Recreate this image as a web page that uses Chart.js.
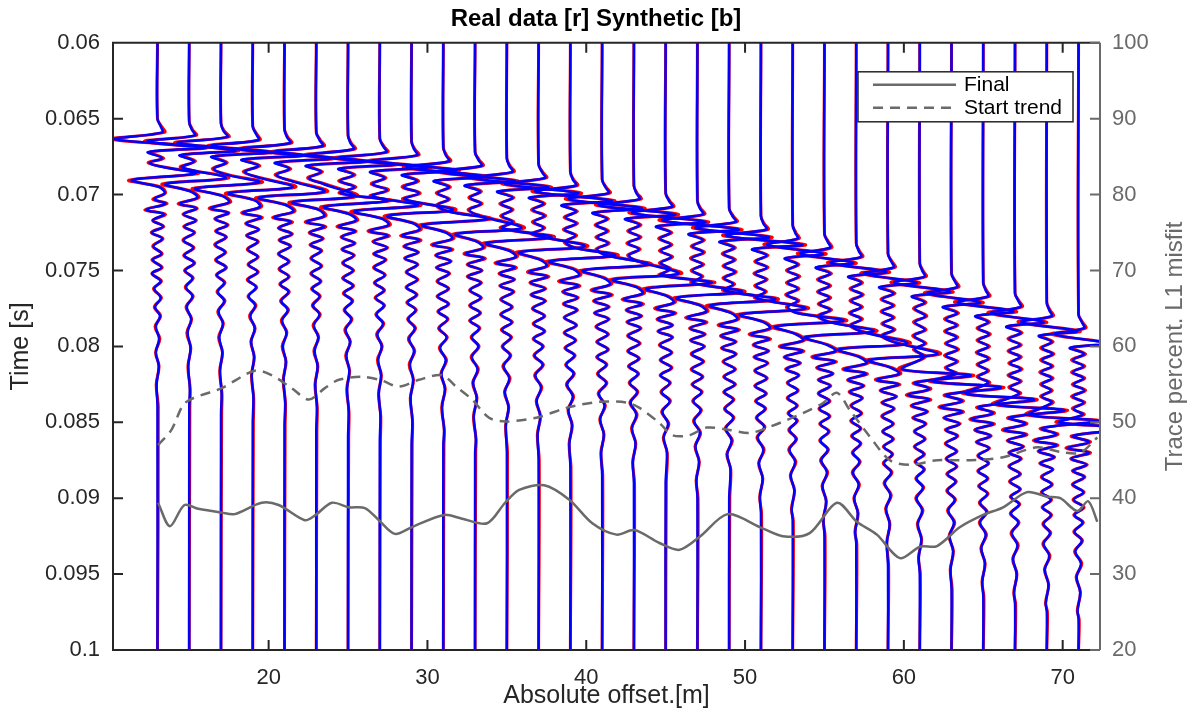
<!DOCTYPE html>
<html lang="en">
<head>
<meta charset="UTF-8">
<title>Real data [r] Synthetic [b]</title>
<script src="https://cdn.jsdelivr.net/npm/chart.js@4.4.1/dist/chart.umd.min.js"></script>
<style>
  html, body { margin: 0; padding: 0; background: #fff; }
  #chart { display: block; }
</style>
</head>
<body>
<canvas id="chart" width="1192" height="710"></canvas>
<script>
// trace positions (m)
const offsets = [13,15,17,19,21,23,25,27,29,31,33,35,37,39,41,43,45,47,49,51,53,55,57,59,61,63,65,67,69,71];

// sample times per trace (ms)
const traceTimes = [
  [60,65,65.5,65.9,66.35,66.9,67.2,67.6,67.9,68.2,68.6,69.05,69.5,69.9,70.3,70.6,71,71.3,71.7,72.1,72.5,72.9,73.4,73.9,74.3,74.8,75.2,75.7,76.2,76.8,77.4,78,78.7,79.5,80.4,81.3,82.5,84,100],
  [60,65.2,65.7,66.1,66.5,67.1,67.4,67.8,68.2,68.9,69.3,69.8,70.2,70.6,70.9,71.3,71.7,72.1,72.5,73,73.5,74,74.5,75,75.5,76.1,76.7,77.4,78.2,79.1,80.1,81.3,82.8,84,100],
  [60,65.3,65.8,66.2,66.6,67.2,67.5,67.9,68.3,68.7,69.2,69.6,70.1,70.5,70.9,71.2,71.6,72,72.4,72.8,73.3,73.8,74.3,74.8,75.3,75.8,76.4,77,77.7,78.5,79.4,80.4,81.6,83.1,84.5,100],
  [60,65.5,66,66.4,66.8,67.4,67.7,68.1,68.5,68.9,69.5,69.9,70.4,70.8,71.2,71.5,71.9,72.3,72.7,73.1,73.6,74.1,74.6,75.1,75.6,76.1,76.7,77.3,78,78.8,79.7,80.7,81.9,83.4,85,100],
  [60,65.7,66.2,66.6,67,67.6,67.9,68.3,68.7,69.1,69.8,70.2,70.7,71.1,71.5,71.8,72.2,72.6,73,73.4,73.9,74.4,74.9,75.4,75.9,76.4,77,77.6,78.3,79.1,80,81,82.2,83.7,85.2,100],
  [60,65.9,66.4,66.8,67.2,67.8,68.1,68.5,68.9,69.3,70.1,70.5,71,71.4,71.8,72.1,72.5,72.9,73.3,73.7,74.2,74.7,75.2,75.7,76.2,76.7,77.3,77.9,78.6,79.4,80.3,81.3,82.5,84,85.5,100],
  [60,66.1,66.6,67,67.4,68,68.3,68.7,69.1,69.5,69.9,70.4,70.8,71.3,71.7,72.1,72.4,72.8,73.2,73.6,74,74.5,75,75.5,76,76.5,77,77.6,78.2,78.9,79.7,80.6,81.6,82.8,84.3,86,100],
  [60,66.3,66.8,67.2,67.6,68.2,68.5,68.9,69.3,69.7,70.1,70.7,71.1,71.6,72,72.4,72.7,73.1,73.5,73.9,74.3,74.8,75.3,75.8,76.3,76.8,77.3,77.9,78.5,79.2,80,80.9,81.9,83.1,84.6,86.2,100],
  [60,66.5,67,67.4,67.8,68.4,68.7,69.1,69.5,69.9,70.3,71,71.4,71.9,72.3,72.7,73,73.4,73.8,74.2,74.6,75.1,75.6,76.1,76.6,77.1,77.6,78.2,78.8,79.5,80.3,81.2,82.2,83.4,84.9,86.5,100],
  [60,66.9,67.4,67.8,68.2,68.8,69.1,69.5,69.9,70.3,70.7,71.1,71.6,72,72.5,72.9,73.3,73.6,74,74.4,74.8,75.2,75.7,76.2,76.7,77.2,77.7,78.2,78.8,79.4,80.1,80.9,81.8,82.8,84,85.5,86.5,100],
  [60,67.2,67.7,68.1,68.5,69.1,69.4,69.8,70.2,70.6,71,71.4,72.2,72.6,73.1,73.5,73.9,74.2,74.6,75,75.4,75.8,76.3,76.8,77.3,77.8,78.3,78.8,79.4,80,80.7,81.5,82.4,83.4,84.6,86.1,87,100],
  [60,67.6,68.1,68.5,68.9,69.5,69.8,70.2,70.6,71,71.4,71.8,72.2,72.8,73.2,73.7,74.1,74.5,74.8,75.2,75.6,76,76.4,76.9,77.4,77.9,78.4,78.9,79.4,80,80.6,81.3,82.1,83,84,85.2,87,100],
  [60,68,68.5,68.9,69.3,69.9,70.2,70.6,71,71.4,71.8,72.2,72.6,73.4,73.8,74.3,74.7,75.1,75.4,75.8,76.2,76.6,77,77.5,78,78.5,79,79.5,80,80.6,81.2,81.9,82.7,83.6,84.6,85.8,87.5,100],
  [60,68.5,69,69.4,69.8,70.4,70.7,71.1,71.5,71.9,72.3,72.7,73.1,73.5,74,74.4,74.9,75.3,75.7,76,76.4,76.8,77.2,77.6,78.1,78.6,79.1,79.6,80.1,80.6,81.2,81.8,82.5,83.3,84.2,85.2,86.4,88,100],
  [60,69,69.5,69.9,70.3,70.9,71.2,71.6,72,72.4,72.8,73.2,73.6,74,74.6,75,75.5,75.9,76.3,76.6,77,77.4,77.8,78.2,78.7,79.2,79.7,80.2,80.7,81.2,81.8,82.4,83.1,83.9,84.8,85.8,87,88.5,100],
  [60,69.4,69.9,70.3,70.7,71.3,71.6,72,72.4,72.8,73.2,73.6,74,74.4,75.2,75.6,76.1,76.5,76.9,77.2,77.6,78,78.4,78.8,79.3,79.8,80.3,80.8,81.3,81.8,82.4,83,83.7,84.5,85.4,86.4,87.6,89,100],
  [60,69.9,70.4,70.8,71.2,71.8,72.1,72.5,72.9,73.3,73.7,74.1,74.5,74.9,75.3,75.8,76.2,76.7,77.1,77.5,77.8,78.2,78.6,79,79.4,79.9,80.4,80.9,81.4,81.9,82.4,83,83.6,84.3,85.1,86,87,89,100],
  [60,70.4,70.9,71.3,71.7,72.3,72.6,73,73.4,73.8,74.2,74.6,75,75.4,75.8,76.4,76.8,77.3,77.7,78.1,78.4,78.8,79.2,79.6,80,80.5,81,81.5,82,82.5,83,83.6,84.2,84.9,85.7,86.6,87.6,88.8,90,100],
  [60,70.9,71.4,71.8,72.2,72.8,73.1,73.5,73.9,74.3,74.7,75.1,75.5,75.9,76.3,76.9,77.3,77.8,78.2,78.6,78.9,79.3,79.7,80.1,80.5,81,81.5,82,82.5,83,83.5,84.1,84.7,85.4,86.2,87.1,88.1,90,100],
  [60,71.4,71.9,72.3,72.7,73.3,73.6,74,74.4,74.8,75.2,75.6,76,76.4,76.8,77.5,77.9,78.4,78.8,79.2,79.5,79.9,80.3,80.7,81.1,81.6,82.1,82.6,83.1,83.6,84.1,84.7,85.3,86,86.8,87.7,88.7,89.9,91,100],
  [60,72,72.5,72.9,73.3,73.9,74.2,74.6,75,75.4,75.8,76.2,76.6,77,77.4,77.8,78.3,78.7,79.2,79.6,80,80.3,80.7,81.1,81.5,81.9,82.4,82.9,83.4,83.9,84.4,84.9,85.5,86.1,86.8,87.6,88.5,89.5,90.7,91.5,100],
  [60,72.6,73.1,73.5,73.9,74.5,74.8,75.2,75.6,76,76.4,76.8,77.2,77.6,78,78.4,79,79.4,79.9,80.3,80.7,81,81.4,81.8,82.2,82.6,83.1,83.6,84.1,84.6,85.1,85.6,86.2,86.8,87.5,88.3,89.2,90.2,91.4,92.5,100],
  [60,73.2,73.7,74.1,74.5,75.1,75.4,75.8,76.2,76.6,77,77.4,77.8,78.2,78.6,79,79.8,80.2,80.7,81.1,81.5,81.8,82.2,82.6,83,83.4,83.9,84.4,84.9,85.4,85.9,86.4,87,87.6,88.3,89.1,90,91,92.2,93,100],
  [60,73.9,74.4,74.8,75.2,75.8,76.1,76.5,76.9,77.3,77.7,78.1,78.5,78.9,79.3,79.7,80.5,80.9,81.4,81.8,82.2,82.5,82.9,83.3,83.7,84.1,84.6,85.1,85.6,86.1,86.6,87.1,87.7,88.3,89,89.8,90.7,91.7,92.9,94.5,100],
  [60,74.5,75,75.4,75.8,76.4,76.7,77.1,77.5,78,78.4,78.9,79.3,79.8,80.2,80.7,81.5,81.9,82.4,82.8,83.2,83.5,83.9,84.3,84.7,85.1,85.6,86.1,86.6,87.1,87.6,88.1,88.7,89.3,90,90.8,91.7,92.7,93.9,95,100],
  [60,75.2,75.7,76.1,76.5,77.1,77.4,77.8,78.2,78.6,79,79.4,79.8,80.2,80.6,81,81.4,81.8,82.3,82.7,83.2,83.6,84,84.3,84.7,85.1,85.5,85.9,86.4,86.9,87.4,87.9,88.4,88.9,89.5,90.1,90.8,91.6,92.5,93.5,94.7,96,100],
  [60,75.8,76.3,76.7,77.1,77.7,78,78.4,78.8,79.2,79.6,80,80.4,80.8,81.2,81.6,82,82.4,83.1,83.5,84,84.4,84.8,85.1,85.5,85.9,86.3,86.7,87.2,87.7,88.2,88.7,89.2,89.7,90.3,90.9,91.6,92.4,93.3,94.3,95.5,96.5,100],
  [60,76.5,77,77.4,77.8,78.4,78.7,79.1,79.5,79.9,80.3,80.7,81.1,81.5,81.9,82.3,82.7,83.1,83.8,84.2,84.7,85.1,85.5,85.8,86.2,86.6,87,87.4,87.9,88.4,88.9,89.4,89.9,90.4,91,91.6,92.3,93.1,94,95,96.2,97,100],
  [60,77.1,77.6,78,78.4,79,79.3,79.7,80.1,80.5,80.9,81.3,81.7,82.1,82.5,82.9,83.3,83.7,84.5,84.9,85.4,85.8,86.2,86.5,86.9,87.3,87.7,88.1,88.6,89.1,89.6,90.1,90.6,91.1,91.7,92.3,93,93.8,94.7,95.7,96.9,97.5,100],
  [60,77.9,78.4,78.8,79.2,79.8,80.1,80.5,80.9,81.3,81.7,82.1,82.5,82.9,83.3,83.7,84.1,84.5,85,85.4,85.9,86.3,86.7,87,87.4,87.8,88.2,88.6,89.1,89.6,90.1,90.6,91.1,91.6,92.2,92.8,93.5,94.3,95.2,96.2,97.4,98,100]
];

// synthetic trace deflection (m) at those times
const synthDx = [
  [0,0,.2,.3,-2.7,3,-.6,.3,-.5,.4,2.4,-1.6,.1,.45,-.2,.5,-.7,.4,-.3,.35,-.35,.3,-.25,.25,-.3,.25,-.35,.2,-.2,.2,-.15,.15,-.1,.1,-.1,.08,-.05,0,0],
  [0,0,.15,.35,-2.6,2.9,-.6,.3,-.45,2.3,-1.5,.1,.5,-.6,.45,-.35,.4,-.3,.3,-.35,.25,-.3,.3,-.25,.2,-.2,.2,-.15,.12,-.1,.08,-.06,.04,0,0],
  [0,0,.15,.4,-2.7,3,-.6,.3,-.45,.4,2.4,-1.6,.1,.5,-.65,.45,-.35,.4,-.3,.3,-.35,.25,-.3,.3,-.25,.2,-.2,.2,-.15,.12,-.1,.08,-.06,.04,0,0],
  [0,0,.2,.35,-2.6,3.1,-.7,.35,-.5,.45,2.5,-1.5,.15,.45,-.6,.5,-.4,.35,-.35,.3,-.3,.3,-.25,.3,-.3,.2,-.25,.15,-.15,.12,-.1,.08,-.06,.04,0,0],
  [0,0,.15,.35,-2.7,2.9,-.6,.3,-.5,.4,2.5,-1.6,.1,.55,-.65,.4,-.35,.45,-.3,.35,-.35,.25,-.3,.25,-.25,.25,-.2,.2,-.15,.12,-.1,.08,-.06,.04,0,0],
  [0,0,.2,.4,-2.6,3,-.65,.3,-.45,.45,2.4,-1.5,.15,.5,-.6,.5,-.4,.4,-.35,.3,-.3,.3,-.3,.25,-.25,.2,-.2,.2,-.15,.12,-.1,.08,-.06,.04,0,0],
  [0,0,.15,.35,-2.5,2.9,-.6,.35,-.5,.4,-.45,2.5,-1.5,.1,.5,-.6,.45,-.4,.4,-.35,.35,-.3,.3,-.3,.3,-.25,.25,-.2,.2,-.15,.12,-.1,.08,-.06,.04,0,0],
  [0,0,.2,.4,-2.6,3,-.6,.3,-.45,.45,-.5,2.4,-1.6,.15,.55,-.65,.5,-.4,.45,-.35,.35,-.35,.3,-.3,.25,-.25,.25,-.2,.2,-.15,.12,-.1,.08,-.06,.04,0,0],
  [0,0,.15,.35,-2.5,2.8,-.6,.35,-.5,.45,-.45,2.6,-1.5,.1,.5,-.6,.5,-.45,.4,-.4,.35,-.3,.35,-.3,.3,-.25,.25,-.2,.2,-.15,.15,-.1,.1,-.06,.05,0,0],
  [0,0,.15,.35,-2.3,2.6,-.6,.35,-.35,.3,-.35,.25,2.8,-1.3,.15,.55,-.65,.5,-.45,.45,-.4,.35,-.35,.3,-.35,.3,-.3,.25,-.25,.2,-.2,.15,-.12,.1,-.08,.05,0,0],
  [0,0,.2,.4,-2.2,2.5,-.65,.3,-.3,.35,-.35,.3,2.9,-1.2,.1,.5,-.6,.55,-.45,.4,-.45,.35,-.3,.35,-.3,.3,-.3,.25,-.2,.2,-.2,.15,-.12,.1,-.08,.05,0,0],
  [0,0,.15,.35,-2.2,2.6,-.6,.35,-.35,.3,-.3,.35,-.3,2.8,-1.3,.15,.55,-.65,.5,-.45,.45,-.4,.4,-.35,.3,-.35,.3,-.3,.25,-.25,.2,-.2,.15,-.12,.1,-.06,0,0],
  [0,0,.2,.4,-2.1,2.5,-.6,.3,-.35,.35,-.3,.3,-.35,2.9,-1.2,.1,.5,-.6,.55,-.5,.4,-.45,.4,-.35,.35,-.3,.35,-.3,.25,-.25,.25,-.2,.15,-.12,.1,-.06,0,0],
  [0,0,.15,.35,-2.2,2.6,-.55,.35,-.3,.35,-.35,.3,-.3,.25,2.8,-1.3,.15,.55,-.65,.5,-.45,.45,-.4,.4,-.35,.35,-.35,.3,-.3,.25,-.25,.2,-.2,.15,-.12,.1,-.06,0,0],
  [0,0,.2,.4,-2.1,2.5,-.6,.3,-.35,.3,-.3,.35,-.3,.25,2.9,-1.2,.1,.5,-.6,.55,-.5,.4,-.45,.4,-.35,.35,-.3,.35,-.3,.25,-.25,.25,-.2,.15,-.12,.1,-.06,0,0],
  [0,0,.15,.35,-2.2,2.6,-.55,.35,-.3,.35,-.35,.3,-.3,.25,2.8,-1.3,.15,.55,-.65,.5,-.45,.45,-.4,.4,-.35,.35,-.35,.3,-.3,.25,-.25,.2,-.2,.15,-.12,.1,-.06,0,0],
  [0,0,.2,.4,-2.1,2.5,-.6,.3,-.35,.3,-.3,.35,-.3,.25,-.3,2.9,-1.2,.1,.5,-.6,.55,-.5,.4,-.45,.4,-.35,.35,-.3,.35,-.3,.25,-.25,.25,-.2,.15,-.12,.08,0,0],
  [0,0,.15,.35,-2.2,2.6,-.55,.35,-.3,.35,-.35,.3,-.3,.25,-.3,2.8,-1.3,.15,.55,-.65,.5,-.45,.45,-.4,.4,-.35,.35,-.35,.3,-.3,.25,-.25,.2,-.2,.15,-.12,.1,-.06,0,0],
  [0,0,.2,.4,-2.1,2.5,-.6,.3,-.35,.3,-.3,.35,-.3,.25,-.3,2.9,-1.2,.1,.5,-.6,.55,-.5,.4,-.45,.4,-.35,.35,-.3,.35,-.3,.25,-.25,.25,-.2,.15,-.12,.08,0,0],
  [0,0,.15,.35,-2.2,2.6,-.55,.35,-.3,.35,-.35,.3,-.3,.25,-.3,2.8,-1.3,.15,.55,-.65,.5,-.45,.45,-.4,.4,-.35,.35,-.35,.3,-.3,.25,-.25,.2,-.2,.15,-.12,.1,-.06,0,0],
  [0,0,.15,.3,-1.6,1.9,-.5,.3,-.3,.35,-.3,.3,-.35,.3,-.3,.25,3.2,-1.1,.2,.65,-.75,.6,-.5,.45,-.4,.35,-.3,.3,-.3,.25,-.25,.25,-.2,.2,-.2,.15,-.12,.1,-.06,0,0],
  [0,0,.2,.35,-1.5,1.8,-.55,.35,-.35,.3,-.35,.3,-.3,.35,-.35,.3,3.1,-1.2,.15,.7,-.7,.65,-.45,.5,-.35,.35,-.35,.3,-.3,.3,-.25,.25,-.25,.2,-.2,.15,-.12,.1,-.06,0,0],
  [0,0,.15,.3,-1.6,1.9,-.5,.3,-.3,.35,-.3,.3,-.35,.3,-.3,.25,3.2,-1.1,.2,.65,-.75,.6,-.5,.45,-.4,.35,-.3,.3,-.3,.25,-.25,.25,-.2,.2,-.2,.15,-.12,.1,-.06,0,0],
  [0,0,.2,.35,-1.5,1.8,-.55,.35,-.35,.3,-.35,.3,-.3,.35,-.35,.3,3.1,-1.2,.15,.7,-.7,.65,-.45,.5,-.35,.35,-.35,.3,-.3,.3,-.25,.25,-.25,.2,-.2,.15,-.12,.1,-.06,0,0],
  [0,0,.15,.3,-1.6,1.9,-.5,.3,-.3,.35,-.3,.3,-.35,.3,-.3,.25,-1.1,3.2,-.3,.6,-.75,.6,-.5,.45,-.4,.35,-.3,.3,-.3,.25,-.25,.25,-.2,.2,-.2,.15,-.12,.1,-.06,0,0],
  [0,0,.2,.35,-1.5,1.8,-.55,.35,-.35,.3,-.35,.3,-.3,.35,-.35,.3,-.3,.25,-1.2,3.1,-.35,.65,-.7,.65,-.45,.5,-.35,.35,-.35,.3,-.3,.3,-.25,.25,-.25,.2,-.2,.15,-.12,.1,-.06,0,0],
  [0,0,.15,.3,-1.6,1.9,-.5,.3,-.3,.35,-.3,.3,-.35,.3,-.3,.25,-.3,.3,-1.1,3.2,-.3,.6,-.75,.6,-.5,.45,-.4,.35,-.3,.3,-.3,.25,-.25,.25,-.2,.2,-.2,.15,-.12,.1,-.06,0,0],
  [0,0,.2,.35,-1.5,1.8,-.55,.35,-.35,.3,-.35,.3,-.3,.35,-.35,.3,-.3,.25,-1.2,3.1,-.35,.65,-.7,.65,-.45,.5,-.35,.35,-.35,.3,-.3,.3,-.25,.25,-.25,.2,-.2,.15,-.12,.1,-.06,0,0],
  [0,0,.15,.3,-1.6,1.9,-.5,.3,-.3,.35,-.3,.3,-.35,.3,-.3,.25,-.3,.3,-1.1,3.2,-.3,.6,-.75,.6,-.5,.45,-.4,.35,-.3,.3,-.3,.25,-.25,.25,-.2,.2,-.2,.15,-.12,.1,-.06,0,0],
  [0,0,.2,.35,-1.5,1.8,-.55,.35,-.35,.3,-.35,.3,-.3,.35,-.35,.3,-.3,.25,-1.2,3.1,-.35,.65,-.7,.65,-.45,.5,-.35,.35,-.35,.3,-.3,.3,-.25,.25,-.25,.2,-.2,.15,-.12,.1,-.06,0,0]
];

// real data deflection (m) at the same times
const realDx = [
  [0,0,.25,.45,-2.9,3.1,-.5,.4,-.6,.5,2.6,-1.8,.2,.5,-.3,.6,-.8,.5,-.3,.4,-.4,.35,-.3,.3,-.35,.3,-.35,.25,-.25,.25,-.2,.2,-.15,.15,-.12,.1,-.08,.05,0],
  [0,0,.2,.45,-2.8,3.1,-.5,.4,-.55,2.5,-1.7,.2,.6,-.7,.5,-.4,.45,-.35,.35,-.4,.3,-.35,.35,-.3,.25,-.25,.25,-.2,.15,-.15,.1,-.08,.06,.04,0],
  [0,0,.2,.5,-2.9,3.2,-.5,.4,-.55,.5,2.6,-1.8,.2,.6,-.75,.5,-.4,.45,-.35,.35,-.4,.3,-.35,.35,-.3,.25,-.25,.25,-.2,.15,-.15,.1,-.08,.06,.04,0],
  [0,0,.25,.45,-2.8,3.2,-.6,.45,-.6,.55,2.7,-1.7,.25,.55,-.7,.6,-.45,.4,-.4,.35,-.35,.35,-.3,.35,-.35,.25,-.3,.2,-.2,.15,-.12,.1,-.08,.06,.04,0],
  [0,0,.2,.45,-2.9,3.1,-.5,.4,-.6,.5,2.7,-1.8,.2,.65,-.75,.5,-.4,.5,-.35,.4,-.4,.3,-.35,.3,-.3,.3,-.25,.25,-.2,.15,-.15,.1,-.08,.06,.04,0],
  [0,0,.25,.5,-2.8,3.2,-.55,.4,-.55,.55,2.6,-1.7,.25,.6,-.7,.6,-.45,.45,-.4,.35,-.35,.35,-.35,.3,-.3,.25,-.25,.25,-.2,.15,-.15,.1,-.08,.06,.04,0],
  [0,0,.2,.45,-2.7,3.1,-.5,.45,-.6,.5,-.55,2.7,-1.7,.2,.6,-.7,.5,-.45,.45,-.4,.4,-.35,.35,-.35,.35,-.3,.3,-.25,.25,-.2,.15,-.15,.1,-.08,.06,.04,0],
  [0,0,.25,.5,-2.8,3.2,-.5,.4,-.55,.55,-.6,2.6,-1.8,.25,.65,-.75,.6,-.45,.5,-.4,.4,-.4,.35,-.35,.3,-.3,.3,-.25,.25,-.2,.15,-.15,.1,-.08,.06,.04,0],
  [0,0,.2,.45,-2.7,3,-.5,.45,-.6,.55,-.55,2.8,-1.7,.2,.6,-.7,.6,-.5,.45,-.45,.4,-.35,.4,-.35,.35,-.3,.3,-.25,.25,-.2,.2,-.15,.12,-.08,.06,.04,0],
  [0,0,.2,.45,-2.5,2.8,-.5,.45,-.45,.4,-.45,.35,3,-1.5,.25,.65,-.75,.6,-.5,.5,-.45,.4,-.4,.35,-.4,.35,-.35,.3,-.3,.25,-.25,.2,-.15,.12,-.1,.06,.04,0],
  [0,0,.25,.5,-2.4,2.7,-.55,.4,-.4,.45,-.45,.4,3.1,-1.4,.2,.6,-.7,.65,-.5,.45,-.5,.4,-.35,.4,-.35,.35,-.35,.3,-.25,.25,-.25,.2,-.15,.12,-.1,.06,.04,0],
  [0,0,.2,.45,-2.4,2.8,-.5,.45,-.45,.4,-.4,.45,-.4,3,-1.5,.25,.65,-.75,.6,-.5,.5,-.45,.45,-.4,.35,-.4,.35,-.35,.3,-.3,.25,-.25,.2,-.15,.12,-.08,.04,0],
  [0,0,.25,.5,-2.3,2.7,-.5,.4,-.45,.45,-.4,.4,-.45,3.1,-1.4,.2,.6,-.7,.65,-.55,.45,-.5,.45,-.4,.4,-.35,.4,-.35,.3,-.3,.3,-.25,.2,-.15,.12,-.08,.04,0],
  [0,0,.2,.45,-2.4,2.8,-.45,.45,-.4,.45,-.45,.4,-.4,.35,3,-1.5,.25,.65,-.75,.6,-.5,.5,-.45,.45,-.4,.4,-.4,.35,-.35,.3,-.3,.25,-.25,.2,-.15,.12,-.08,.04,0],
  [0,0,.25,.5,-2.3,2.7,-.5,.4,-.45,.4,-.4,.45,-.4,.35,3.1,-1.4,.2,.6,-.7,.65,-.55,.45,-.5,.45,-.4,.4,-.35,.4,-.35,.3,-.3,.3,-.25,.2,-.15,.12,-.08,.04,0],
  [0,0,.2,.45,-2.4,2.8,-.45,.45,-.4,.45,-.45,.4,-.4,.35,3,-1.5,.25,.65,-.75,.6,-.5,.5,-.45,.45,-.4,.4,-.4,.35,-.35,.3,-.3,.25,-.25,.2,-.15,.12,-.08,.04,0],
  [0,0,.25,.5,-2.3,2.7,-.5,.4,-.45,.4,-.4,.45,-.4,.35,-.4,3.1,-1.4,.2,.6,-.7,.65,-.55,.45,-.5,.45,-.4,.4,-.35,.4,-.35,.3,-.3,.3,-.25,.2,-.15,.1,.04,0],
  [0,0,.2,.45,-2.4,2.8,-.45,.45,-.4,.45,-.45,.4,-.4,.35,-.4,3,-1.5,.25,.65,-.75,.6,-.5,.5,-.45,.45,-.4,.4,-.4,.35,-.35,.3,-.3,.25,-.25,.2,-.15,.12,-.08,.04,0],
  [0,0,.25,.5,-2.3,2.7,-.5,.4,-.45,.4,-.4,.45,-.4,.35,-.4,3.1,-1.4,.2,.6,-.7,.65,-.55,.45,-.5,.45,-.4,.4,-.35,.4,-.35,.3,-.3,.3,-.25,.2,-.15,.1,.04,0],
  [0,0,.2,.45,-2.4,2.8,-.45,.45,-.4,.45,-.45,.4,-.4,.35,-.4,3,-1.5,.25,.65,-.75,.6,-.5,.5,-.45,.45,-.4,.4,-.4,.35,-.35,.3,-.3,.25,-.25,.2,-.15,.12,-.08,.04,0],
  [0,0,.2,.4,-1.8,2.1,-.4,.4,-.4,.45,-.4,.4,-.45,.4,-.4,.35,3.4,-1.3,.3,.75,-.85,.7,-.55,.5,-.45,.4,-.35,.35,-.35,.3,-.3,.3,-.25,.25,-.25,.2,-.15,.12,-.08,.04,0],
  [0,0,.25,.45,-1.7,2,-.45,.45,-.45,.4,-.45,.4,-.4,.45,-.45,.4,3.3,-1.4,.25,.8,-.8,.75,-.5,.55,-.4,.4,-.4,.35,-.35,.35,-.3,.3,-.3,.25,-.25,.2,-.15,.12,-.08,.04,0],
  [0,0,.2,.4,-1.8,2.1,-.4,.4,-.4,.45,-.4,.4,-.45,.4,-.4,.35,3.4,-1.3,.3,.75,-.85,.7,-.55,.5,-.45,.4,-.35,.35,-.35,.3,-.3,.3,-.25,.25,-.25,.2,-.15,.12,-.08,.04,0],
  [0,0,.25,.45,-1.7,2,-.45,.45,-.45,.4,-.45,.4,-.4,.45,-.45,.4,3.3,-1.4,.25,.8,-.8,.75,-.5,.55,-.4,.4,-.4,.35,-.35,.35,-.3,.3,-.3,.25,-.25,.2,-.15,.12,-.08,.04,0],
  [0,0,.2,.4,-1.8,2.1,-.4,.4,-.4,.45,-.4,.4,-.45,.4,-.4,.35,-1.3,3.4,-.4,.7,-.85,.7,-.55,.5,-.45,.4,-.35,.35,-.35,.3,-.3,.3,-.25,.25,-.25,.2,-.15,.12,-.08,.04,0],
  [0,0,.25,.45,-1.7,2,-.45,.45,-.45,.4,-.45,.4,-.4,.45,-.45,.4,-.4,.35,-1.4,3.3,-.45,.75,-.8,.75,-.5,.55,-.4,.4,-.4,.35,-.35,.35,-.3,.3,-.3,.25,-.25,.2,-.15,.12,-.08,.04,0],
  [0,0,.2,.4,-1.8,2.1,-.4,.4,-.4,.45,-.4,.4,-.45,.4,-.4,.35,-.4,.4,-1.3,3.4,-.4,.7,-.85,.7,-.55,.5,-.45,.4,-.35,.35,-.35,.3,-.3,.3,-.25,.25,-.25,.2,-.15,.12,-.08,.04,0],
  [0,0,.25,.45,-1.7,2,-.45,.45,-.45,.4,-.45,.4,-.4,.45,-.45,.4,-.4,.35,-1.4,3.3,-.45,.75,-.8,.75,-.5,.55,-.4,.4,-.4,.35,-.35,.35,-.3,.3,-.3,.25,-.25,.2,-.15,.12,-.08,.04,0],
  [0,0,.2,.4,-1.8,2.1,-.4,.4,-.4,.45,-.4,.4,-.45,.4,-.4,.35,-.4,.4,-1.3,3.4,-.4,.7,-.85,.7,-.55,.5,-.45,.4,-.35,.35,-.35,.3,-.3,.3,-.25,.25,-.25,.2,-.15,.12,-.08,.04,0],
  [0,0,.25,.45,-1.7,2,-.45,.45,-.45,.4,-.45,.4,-.4,.45,-.45,.4,-.4,.35,-1.4,3.3,-.45,.75,-.8,.75,-.5,.55,-.4,.4,-.4,.35,-.35,.35,-.3,.3,-.3,.25,-.25,.2,-.15,.12,-.08,.04,0]
];

// misfit curves (right axis, percent)
const finalOffset = [13.04,13.78,14.7,15.57,17.04,17.86,19.56,20.63,22.27,22.9,23.98,25.05,26.06,26.94,27.95,29.03,31.04,32.18,33.76,34.89,35.78,37.35,38.93,40.38,41.9,43.03,44.61,45.87,47.13,48.9,50.92,52.37,54.07,55.78,57.04,58.3,59.75,61.01,62.09,63.54,64.99,66.25,67.76,69.03,69.85,70.92,71.61,72.18];
const finalMisfit = [39.4,36.3,39.1,38.6,38.1,37.9,39.4,39.1,37.1,37.7,39.4,38.8,38.7,37.1,35.3,36.2,37.8,37.3,36.7,39.4,41.1,41.7,39.8,36.7,35.2,35.8,34.1,33.2,34.9,37.9,36.2,35,35.4,39.4,36.9,35.2,32.1,33.6,33.7,36.2,37.8,38.8,40.8,40.2,40,38.3,39.6,36.9];
const trendOffset = [13.04,13.88,14.62,15.27,17.04,19.12,20.19,21.45,22.53,23.54,24.42,25.87,27.13,28.2,29.46,30.92,31.8,32.81,33.88,34.96,37.04,38.74,40.82,42.53,43.35,44.61,45.43,46.5,47.57,49.02,50.29,51.55,53.63,54.89,55.78,56.6,57.86,59.12,60.38,62.09,64.17,66.25,68.39,69.85,71.11,72.18];
const startTrend = [47,49,52.3,53.2,54.5,56.8,56.2,54.5,53,54.5,55.6,56,55.5,54.7,55.6,56.2,54.7,53,50.6,50.1,50.7,51.9,52.7,52.6,51.9,49.9,48.3,48.3,49.3,49,48.6,49.4,51.2,52.5,53.9,51.6,48.1,45,44.4,45,45,45.4,46.7,46.1,46,48];

// ticks
const offsetTicks = [20,30,40,50,60,70];
const timeTicks = [60,65,70,75,80,85,90,95,100];
const timeTickLabels = ['0.06','0.065','0.07','0.075','0.08','0.085','0.09','0.095','0.1'];
const misfitTicks = [20,30,40,50,60,70,80,90,100];

const GRAY = '#6a6a6a';
const INK = '#262626';
Chart.defaults.font.family = '"Liberation Sans", Arial, Helvetica, sans-serif';

const datasets = [];
datasets.push({
    label: 'Final', yAxisID: 'y2', order: 0,
    data: finalOffset.map((x, i) => ({x: x, y: finalMisfit[i]})),
    borderColor: GRAY, borderWidth: 2.5, tension: 0.3
});
datasets.push({
    label: 'Start trend', yAxisID: 'y2', order: 0,
    data: trendOffset.map((x, i) => ({x: x, y: startTrend[i]})),
    borderColor: GRAY, borderWidth: 2.5, borderDash: [10, 7], tension: 0.3
});
offsets.forEach(function(off, i) {
    var n = Math.min(traceTimes[i].length, synthDx[i].length, realDx[i].length);
    var t = traceTimes[i].slice(0, n);
    datasets.push({
        label: 'Real ' + off, yAxisID: 'y', order: 2,
        data: t.map((v, j) => ({x: off + realDx[i][j], y: v})),
        borderColor: '#ff0000', borderWidth: 3, tension: 0.35
    });
    datasets.push({
        label: 'Synthetic ' + off, yAxisID: 'y', order: 1,
        data: t.map((v, j) => ({x: off + synthDx[i][j], y: v})),
        borderColor: '#0000ff', borderWidth: 2.5, tension: 0.35
    });
});

// box, inward ticks, legend and right axis title (MATLAB look)
const matlabFrame = {
    id: 'matlabFrame',
    afterDraw(chart) {
        const ctx = chart.ctx, a = chart.chartArea, s = chart.scales;
        ctx.save();
        ctx.lineWidth = 2;
        ctx.strokeStyle = INK;
        ctx.beginPath();
        s.x.ticks.forEach(function(t) {
            var px = s.x.getPixelForValue(t.value);
            ctx.moveTo(px, a.bottom); ctx.lineTo(px, a.bottom - 10);
            ctx.moveTo(px, a.top); ctx.lineTo(px, a.top + 10);
        });
        s.y.ticks.forEach(function(t) {
            var py = s.y.getPixelForValue(t.value);
            ctx.moveTo(a.left, py); ctx.lineTo(a.left + 10, py);
        });
        ctx.moveTo(a.right, a.top); ctx.lineTo(a.left, a.top);
        ctx.lineTo(a.left, a.bottom); ctx.lineTo(a.right, a.bottom);
        ctx.stroke();

        ctx.strokeStyle = GRAY;
        ctx.beginPath();
        ctx.moveTo(a.right, a.top); ctx.lineTo(a.right, a.bottom);
        s.y2.ticks.forEach(function(t) {
            var py = s.y2.getPixelForValue(t.value);
            ctx.moveTo(a.right, py); ctx.lineTo(a.right - 10, py);
        });
        ctx.stroke();

        // legend box
        var lx = a.right - 242, ly = a.top + 29, lw = 215, lh = 50;
        ctx.fillStyle = '#ffffff';
        ctx.fillRect(lx, ly, lw, lh);
        ctx.lineWidth = 1.5;
        ctx.strokeStyle = INK;
        ctx.strokeRect(lx, ly, lw, lh);
        ctx.font = '21px "Liberation Sans", Arial, sans-serif';
        ctx.textBaseline = 'middle';
        [0, 1].forEach(function(k, row) {
            var ds = chart.data.datasets[k];
            var yy = ly + 13 + row * 23;
            ctx.strokeStyle = ds.borderColor;
            ctx.lineWidth = 2.5;
            ctx.setLineDash(ds.borderDash || []);
            ctx.beginPath(); ctx.moveTo(lx + 15, yy); ctx.lineTo(lx + 98, yy); ctx.stroke();
            ctx.setLineDash([]);
            ctx.fillStyle = '#000';
            ctx.fillText(ds.label, lx + 106, yy);
        });

        // right axis title, reading bottom to top
        ctx.translate(1175, (a.top + a.bottom) / 2);
        ctx.rotate(-Math.PI / 2);
        ctx.textAlign = 'center';
        ctx.fillStyle = GRAY;
        ctx.font = '24px "Liberation Sans", Arial, sans-serif';
        ctx.fillText('Trace percent. L1 misfit', 0, 0);
        ctx.restore();
    }
};

new Chart(document.getElementById('chart'), {
    type: 'scatter',
    data: { datasets: datasets },
    plugins: [matlabFrame],
    options: {
        responsive: false,
        animation: false,
        events: [],
        elements: { point: { radius: 0 }, line: { fill: false } },
        datasets: { scatter: { showLine: true, pointRadius: 0 } },
        plugins: {
            legend: { display: false },
            tooltip: { enabled: false },
            title: {
                display: true,
                text: 'Real data [r] Synthetic [b]',
                color: '#000',
                font: { size: 24, weight: 'bold' },
                padding: { top: 5, bottom: 9 }
            }
        },
        scales: {
            x: {
                type: 'linear', position: 'bottom', min: 10.2, max: 72.35,
                grid: { display: false, drawTicks: false }, border: { display: false },
                afterBuildTicks: function(sc) { sc.ticks = offsetTicks.map(v => ({value: v})); },
                afterFit: function(sc) { sc.height = 60; },
                ticks: { color: INK, font: { size: 22 }, padding: 15, maxRotation: 0 },
                title: { display: true, text: 'Absolute offset.[m]', color: INK, font: { size: 25 }, padding: { top: 0, bottom: -1 } }
            },
            y: {
                type: 'linear', position: 'left', reverse: true, min: 60, max: 100,
                grid: { display: false, drawTicks: false }, border: { display: false },
                afterBuildTicks: function(sc) { sc.ticks = timeTicks.map(v => ({value: v})); },
                afterFit: function(sc) { sc.width = 113; },
                ticks: { color: INK, font: { size: 22 }, padding: 13, callback: (v, i) => timeTickLabels[i] },
                title: { display: true, text: 'Time [s]', color: INK, font: { size: 25 }, padding: { top: 6, bottom: 0 } }
            },
            y2: {
                type: 'linear', position: 'right', min: 20, max: 100,
                grid: { display: false, drawTicks: false }, border: { display: false },
                afterBuildTicks: function(sc) { sc.ticks = misfitTicks.map(v => ({value: v})); },
                afterFit: function(sc) { sc.width = 92; },
                ticks: { color: GRAY, font: { size: 22 }, padding: 12 }
            }
        }
    }
});
</script>
</body>
</html>
